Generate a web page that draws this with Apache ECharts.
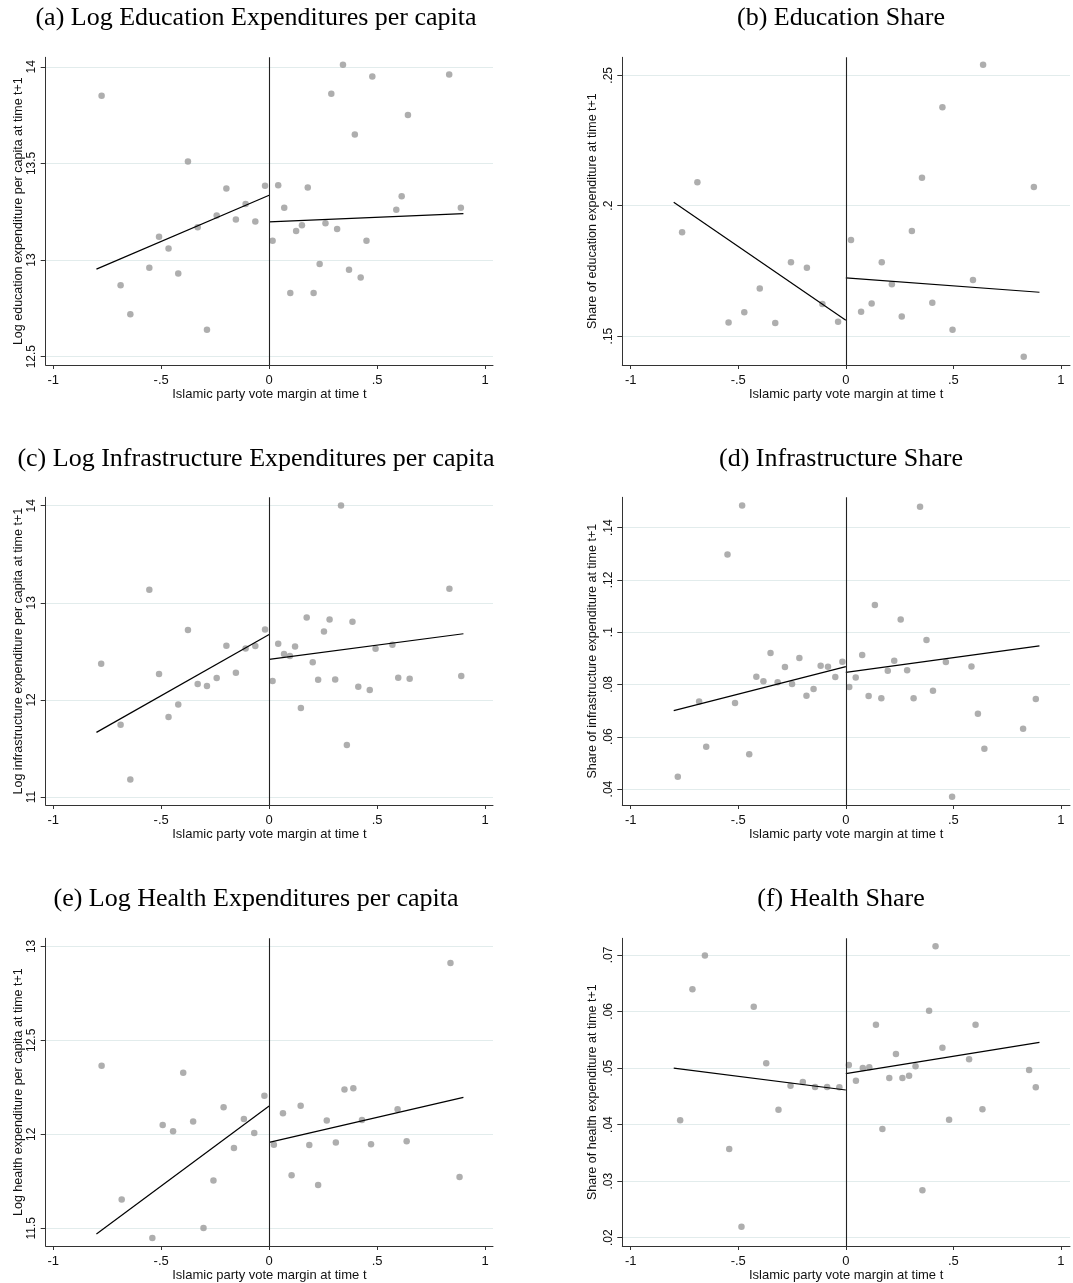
<!DOCTYPE html>
<html><head><meta charset="utf-8">
<script src="https://cdn.jsdelivr.net/npm/echarts@6/dist/echarts.min.js"></script>
<style>html,body{margin:0;padding:0;background:#fff}#c{width:1073px;height:1283px}</style>
</head><body><div id="c"></div>
<script>
// ---------- text ----------
const titles = [
  '(a) Log Education Expenditures per capita',
  '(b) Education Share',
  '(c) Log Infrastructure Expenditures per capita',
  '(d) Infrastructure Share',
  '(e) Log Health Expenditures per capita',
  '(f) Health Share'
];
const yNames = [
  'Log education expenditure per capita at time t+1',
  'Share of education expenditure at time t+1',
  'Log infrastructure expenditure per capita at time t+1',
  'Share of infrastructure expenditure at time t+1',
  'Log health expenditure per capita at time t+1',
  'Share of health expenditure at time t+1'
];
const xName = 'Islamic party vote margin at time t';

// ---------- tick values ----------
const xTicks = [-1, -0.5, 0, 0.5, 1];
const yTicksA = [12.5, 13, 13.5, 14];
const yTicksB = [0.15, 0.2, 0.25];
const yTicksC = [11, 12, 13, 14];
const yTicksD = [0.04, 0.06, 0.08, 0.1, 0.12, 0.14];
const yTicksE = [11.5, 12, 12.5, 13];
const yTicksF = [0.02, 0.03, 0.04, 0.05, 0.06, 0.07];

// ---------- (a) Log education ----------
const aX = [-0.776,-0.688,-0.643,-0.555,-0.510,-0.466,-0.421,-0.376,-0.331,-0.288,-0.243,-0.198,-0.154,-0.109,-0.064,-0.019,
  0.016,0.042,0.070,0.098,0.125,0.152,0.179,0.206,0.234,0.261,0.288,0.315,0.342,0.370,0.397,0.424,0.451,0.478,0.589,0.614,0.643,0.834,0.888];
const aY = [13.85,12.87,12.72,12.96,13.12,13.06,12.93,13.51,13.17,12.64,13.23,13.37,13.21,13.29,13.20,13.385,
  13.10,13.387,13.27,12.83,13.15,13.18,13.375,12.83,12.98,13.19,13.86,13.16,14.01,12.95,13.65,12.91,13.10,13.95,13.26,13.33,13.75,13.96,13.27];
const aFitL = [[-0.8, 12.953], [0, 13.335]];
const aFitR = [[0, 13.197], [0.9, 13.24]];

// ---------- (b) Education share ----------
const bX = [-0.761,-0.690,-0.545,-0.472,-0.400,-0.328,-0.255,-0.181,-0.109,-0.036,
  0.024,0.071,0.120,0.167,0.214,0.260,0.307,0.354,0.402,0.449,0.496,0.591,0.638,0.827,0.874];
const bY = [0.1898,0.2090,0.1552,0.1591,0.1682,0.1550,0.1783,0.1762,0.1623,0.1555,
  0.1868,0.1593,0.1625,0.1783,0.1699,0.1575,0.1903,0.2107,0.1628,0.2377,0.1524,0.1715,0.2540,0.1421,0.2072];
const bFitL = [[-0.8, 0.2013], [0, 0.1561]];
const bFitR = [[0, 0.1723], [0.9, 0.1668]];

// ---------- (c) Log infrastructure ----------
const cX = [-0.778,-0.688,-0.643,-0.555,-0.510,-0.466,-0.421,-0.376,-0.331,-0.288,-0.243,-0.198,-0.154,-0.109,-0.064,-0.019,
  0.016,0.042,0.069,0.096,0.120,0.147,0.174,0.202,0.227,0.254,0.280,0.306,0.333,0.360,0.386,0.413,0.466,0.493,0.571,0.598,0.651,0.835,0.890];
const cY = [12.373,11.745,11.18,13.135,12.266,11.824,11.954,12.72,12.163,12.143,12.225,12.558,12.28,12.531,12.555,12.726,
  12.194,12.579,12.472,12.452,12.551,11.916,12.85,12.387,12.208,12.706,12.829,12.211,14.003,11.535,12.805,12.136,12.102,12.527,12.568,12.229,12.218,13.145,12.246];
const cFitL = [[-0.8, 11.666], [0, 12.675]];
const cFitR = [[0, 12.417], [0.9, 12.682]];

// ---------- (d) Infrastructure share ----------
const dX = [-0.781,-0.682,-0.649,-0.550,-0.515,-0.482,-0.449,-0.416,-0.383,-0.350,-0.317,-0.283,-0.250,-0.216,-0.183,-0.150,-0.117,-0.083,-0.049,-0.016,
  0.016,0.046,0.076,0.106,0.135,0.165,0.195,0.225,0.255,0.285,0.315,0.345,0.375,0.405,0.465,0.494,0.584,0.614,0.644,0.824,0.883];
const dY = [0.0447,0.0735,0.0562,0.1297,0.0729,0.1485,0.0533,0.0830,0.0812,0.0920,0.0809,0.0867,0.0802,0.0901,0.0757,0.0783,0.0872,0.0868,0.0829,0.0887,
  0.0790,0.0827,0.0913,0.0756,0.1104,0.0747,0.0853,0.0891,0.1049,0.0854,0.0747,0.1480,0.0970,0.0776,0.0886,0.0371,0.0869,0.0688,0.0554,0.0631,0.0744];
const dFitL = [[-0.8, 0.0700], [0, 0.0868]];
const dFitR = [[0, 0.0846], [0.9, 0.0948]];

// ---------- (e) Log health ----------
const eX = [-0.776,-0.683,-0.541,-0.493,-0.445,-0.398,-0.352,-0.304,-0.258,-0.211,-0.163,-0.117,-0.069,-0.022,
  0.022,0.064,0.104,0.146,0.186,0.227,0.267,0.309,0.349,0.390,0.430,0.472,0.595,0.637,0.840,0.882];
const eY = [12.365,11.654,11.449,12.05,12.016,12.328,12.069,11.502,11.754,12.144,11.927,12.082,12.007,12.206,
  11.945,12.112,11.782,12.152,11.943,11.73,12.074,11.957,12.238,12.245,12.076,11.947,12.133,11.963,12.911,11.773];
const eFitL = [[-0.8, 11.47], [0, 12.151]];
const eFitR = [[0, 11.957], [0.9, 12.197]];

// ---------- (f) Health share ----------
const fX = [-0.770,-0.713,-0.655,-0.542,-0.485,-0.428,-0.370,-0.313,-0.257,-0.200,-0.143,-0.087,-0.030,
  0.014,0.047,0.079,0.109,0.140,0.170,0.202,0.233,0.263,0.294,0.324,0.356,0.387,0.417,0.449,0.480,0.573,0.603,0.635,0.852,0.883];
const fY = [0.04075,0.06393,0.0699,0.03568,0.02195,0.06086,0.05084,0.04264,0.04689,0.04754,0.04665,0.04665,0.04659,
  0.05054,0.04777,0.05001,0.05013,0.05768,0.03922,0.04824,0.05249,0.04824,0.04866,0.05031,0.02837,0.06015,0.07153,0.05361,0.04087,0.05154,0.05768,0.0427,0.04966,0.04659];
const fFitL = [[-0.8, 0.0500], [0, 0.04612]];
const fFitR = [[0, 0.04901], [0.9, 0.05455]];

// ---------- assemble ----------
const panels = [
  {x:aX, y:aY, fl:aFitL, fr:aFitR, yt:yTicksA, ymin:12.457, ymax:14.049},
  {x:bX, y:bY, fl:bFitL, fr:bFitR, yt:yTicksB, ymin:0.1389, ymax:0.2569},
  {x:cX, y:cY, fl:cFitL, fr:cFitR, yt:yTicksC, ymin:10.918, ymax:14.087},
  {x:dX, y:dY, fl:dFitL, fr:dFitR, yt:yTicksD, ymin:0.0339, ymax:0.1516},
  {x:eX, y:eY, fl:eFitL, fr:eFitR, yt:yTicksE, ymin:11.406, ymax:13.043},
  {x:fX, y:fY, fl:fFitL, fr:fFitR, yt:yTicksF, ymin:0.01853, ymax:0.07295}
];
const colLayout = [
  {left:45.7, width:447.3, xmin:-1.035, xmax:1.037, titleX:256, yNameGap:20},
  {left:622.3, width:447.7, xmin:-1.039, xmax:1.042, titleX:841, yNameGap:23.5}
];
const rowTops = [57.3, 497.3, 938.3];
const rowTitleY = [18.5, 459, 899.5];
const plotH = 307.7;

function fmt(v){
  let s = String(+(+v).toFixed(4));
  return s.replace(/^0\./, '.').replace(/^-0\./, '-.');
}
const SANS = 'Liberation Sans';
const AXC = '#333';

const grid = [], xAxis = [], yAxis = [], series = [], graphic = [];
panels.forEach((p, i) => {
  const col = colLayout[i % 2];
  const row = Math.floor(i / 2);
  grid.push({left: col.left, top: rowTops[row], width: col.width, height: plotH, containLabel: false});
  xAxis.push({
    type:'value', gridIndex:i, min:col.xmin, max:col.xmax,
    name: xName, nameLocation:'middle', nameGap:21,
    nameTextStyle:{fontFamily:SANS, fontSize:13, color:'#111'},
    axisLine:{show:true, onZero:false, lineStyle:{color:AXC, width:1}},
    axisTick:{show:true, length:4, customValues:xTicks, lineStyle:{color:AXC}},
    axisLabel:{customValues:xTicks, formatter:fmt, margin:9, fontFamily:SANS, fontSize:13, color:'#111'},
    splitLine:{show:false}
  });
  yAxis.push({
    type:'value', gridIndex:i, min:p.ymin, max:p.ymax,
    name: yNames[i], nameLocation:'middle', nameGap:col.yNameGap, nameRotate:90,
    nameTextStyle:{fontFamily:SANS, fontSize:12.5, color:'#111'},
    axisLine:{show:true, onZero:false, lineStyle:{color:AXC, width:1}},
    axisTick:{show:true, length:5, customValues:p.yt, lineStyle:{color:AXC}},
    axisLabel:{customValues:p.yt, formatter:fmt, rotate:90, margin:8, fontFamily:SANS, fontSize:12, color:'#111'},
    splitLine:{show:true, lineStyle:{color:'#e2ecec', width:1}}
  });
  series.push({
    type:'scatter', xAxisIndex:i, yAxisIndex:i, clip:false,
    data: p.x.map((v, k) => [v, p.y[k]]),
    symbolSize:6.5, itemStyle:{color:'#9a9a9a'}, z:3,
    markLine:{silent:true, symbol:'none', label:{show:false},
      lineStyle:{color:'#222', width:1.1, type:'solid'},
      data:[{xAxis:0}]}
  });
  series.push({type:'line', xAxisIndex:i, yAxisIndex:i, data:p.fl, symbol:'none',
    lineStyle:{color:'#000', width:1.2}, z:4});
  series.push({type:'line', xAxisIndex:i, yAxisIndex:i, data:p.fr, symbol:'none',
    lineStyle:{color:'#000', width:1.2}, z:4});
  graphic.push({type:'text', x:col.titleX, y:rowTitleY[row],
    style:{text:titles[i], fontFamily:'Liberation Serif', fontSize:26, fill:'#000',
      textAlign:'center', textVerticalAlign:'middle'}});
});

const chart = echarts.init(document.getElementById('c'), null, {renderer:'canvas'});
chart.setOption({animation:false, backgroundColor:'#fff', grid, xAxis, yAxis, series, graphic});
</script></body></html>
